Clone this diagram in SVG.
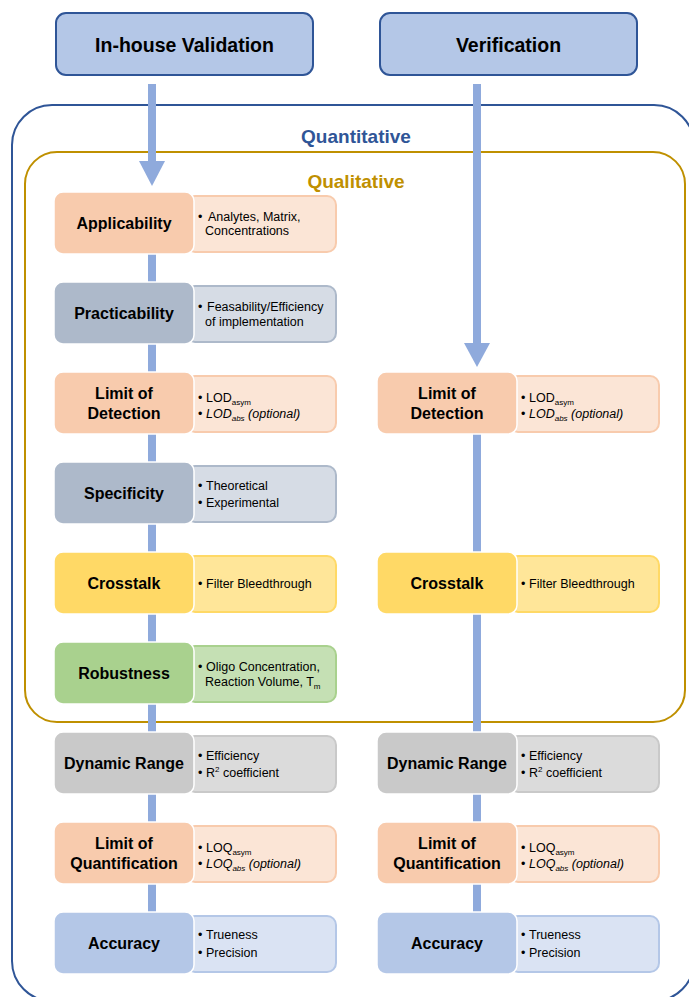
<svg xmlns="http://www.w3.org/2000/svg" width="689" height="997" viewBox="0 0 689 997">
<style>
text{font-family:"Liberation Sans",Arial,sans-serif;fill:#000}
.hdr{fill:#b4c7e7;stroke:#2f5597;stroke-width:2}
.ht{font-size:19.5px;font-weight:bold;text-anchor:middle}
.lbl{font-size:16px;font-weight:bold;text-anchor:middle}
.dt{font-size:12.5px}
.sub{font-size:8px}
.it{font-style:italic}
.main{stroke:#ffffff;stroke-width:1.5}
.det{stroke-width:2}
.or .main{fill:#f8cbad}.or .det{fill:#fbe5d6;stroke:#f8cbad}
.sl .main{fill:#adb9ca}.sl .det{fill:#d6dce5;stroke:#adb9ca}
.ye .main{fill:#ffd966}.ye .det{fill:#ffe699;stroke:#ffd966}
.gr .main{fill:#a9d18e}.gr .det{fill:#c5e0b4;stroke:#a9d18e}
.gy .main{fill:#c9c9c9}.gy .det{fill:#dbdbdb;stroke:#c9c9c9}
.bl .main{fill:#b4c7e7}.bl .det{fill:#dae3f3;stroke:#b4c7e7}
.conn{fill:#8faadc}
</style>
<rect width="689" height="997" fill="#ffffff"/>
<g id="containers">
<rect x="12" y="105" width="682" height="896" rx="40" fill="none" stroke="#2f5597" stroke-width="2"/>
<text x="356" y="143" font-size="19px" font-weight="bold" text-anchor="middle" style="fill:#2f5597">Quantitative</text>
<rect x="25" y="152" width="660" height="570" rx="32" fill="none" stroke="#bf9000" stroke-width="2"/>
<text x="356" y="188" font-size="19px" font-weight="bold" text-anchor="middle" style="fill:#bf9000">Qualitative</text>
</g>
<g id="header-validation">
<rect class="hdr" x="56" y="13" width="257" height="62" rx="10"/>
<text class="ht" x="184.5" y="51.5">In-house Validation</text>
</g>
<g id="header-verification">
<rect class="hdr" x="380" y="13" width="257" height="62" rx="10"/>
<text class="ht" x="508.5" y="51.5">Verification</text>
</g>
<g id="connectors">
<rect class="conn" x="148" y="84" width="8" height="78"/>
<polygon class="conn" points="139,161 165,161 152,186"/>
<rect class="conn" x="148" y="250" width="8" height="665"/>
<rect class="conn" x="473" y="84" width="8" height="260"/>
<polygon class="conn" points="464,343 490,343 477,367"/>
<rect class="conn" x="473" y="432" width="8" height="483"/>
</g>
<!-- Left column -->
<g id="applicability" class="or">
<rect class="det" x="186" y="196" width="150" height="56" rx="9"/>
<rect class="main" x="54" y="192" width="140" height="62" rx="9"/>
<text class="lbl" x="124" y="229">Applicability</text>
<text class="dt" x="198" y="221">•<tspan x="208">Analytes, Matrix,</tspan></text>
<text class="dt" x="205" y="235">Concentrations</text>
</g>
<g id="practicability" class="sl">
<rect class="det" x="186" y="286" width="150" height="56" rx="9"/>
<rect class="main" x="54" y="282" width="140" height="62" rx="9"/>
<text class="lbl" x="124" y="319">Practicability</text>
<text class="dt" x="198" y="311">•<tspan x="207">Feasability/Efficiency</tspan></text>
<text class="dt" x="205" y="326">of implementation</text>
</g>
<g id="lod-left" class="or">
<rect class="det" x="186" y="376" width="150" height="56" rx="9"/>
<rect class="main" x="54" y="372" width="140" height="62" rx="9"/>
<text class="lbl" x="124" y="399">Limit of</text>
<text class="lbl" x="124" y="419">Detection</text>
<text class="dt" x="198" y="402">•<tspan x="206">LOD</tspan><tspan class="sub" dy="3">asym</tspan></text>
<text class="dt" x="198" y="418">•<tspan x="206" class="it">LOD</tspan><tspan class="sub it" dy="3">abs</tspan><tspan class="it" dy="-3"> (optional)</tspan></text>
</g>
<g id="specificity" class="sl">
<rect class="det" x="186" y="466" width="150" height="56" rx="9"/>
<rect class="main" x="54" y="462" width="140" height="62" rx="9"/>
<text class="lbl" x="124" y="499">Specificity</text>
<text class="dt" x="198" y="490">•<tspan x="206">Theoretical</tspan></text>
<text class="dt" x="198" y="507">•<tspan x="206">Experimental</tspan></text>
</g>
<g id="crosstalk-left" class="ye">
<rect class="det" x="186" y="556" width="150" height="56" rx="9"/>
<rect class="main" x="54" y="552" width="140" height="62" rx="9"/>
<text class="lbl" x="124" y="589">Crosstalk</text>
<text class="dt" x="198" y="588">•<tspan x="206">Filter Bleedthrough</tspan></text>
</g>
<g id="robustness" class="gr">
<rect class="det" x="186" y="646" width="150" height="56" rx="9"/>
<rect class="main" x="54" y="642" width="140" height="62" rx="9"/>
<text class="lbl" x="124" y="679">Robustness</text>
<text class="dt" x="198" y="671">•<tspan x="206">Oligo Concentration,</tspan></text>
<text class="dt" x="205" y="686">Reaction Volume, T<tspan class="sub" dy="3">m</tspan></text>
</g>
<g id="dynamic-range-left" class="gy">
<rect class="det" x="186" y="736" width="150" height="56" rx="9"/>
<rect class="main" x="54" y="732" width="140" height="62" rx="9"/>
<text class="lbl" x="124" y="769">Dynamic Range</text>
<text class="dt" x="198" y="760">•<tspan x="206">Efficiency</tspan></text>
<text class="dt" x="198" y="777">•<tspan x="206">R</tspan><tspan class="sub" dy="-5">2</tspan><tspan dy="5"> coefficient</tspan></text>
</g>
<g id="loq-left" class="or">
<rect class="det" x="186" y="826" width="150" height="56" rx="9"/>
<rect class="main" x="54" y="822" width="140" height="62" rx="9"/>
<text class="lbl" x="124" y="849">Limit of</text>
<text class="lbl" x="124" y="869">Quantification</text>
<text class="dt" x="198" y="852">•<tspan x="206">LOQ</tspan><tspan class="sub" dy="3">asym</tspan></text>
<text class="dt" x="198" y="868">•<tspan x="206" class="it">LOQ</tspan><tspan class="sub it" dy="3">abs</tspan><tspan class="it" dy="-3"> (optional)</tspan></text>
</g>
<g id="accuracy-left" class="bl">
<rect class="det" x="186" y="916" width="150" height="56" rx="9"/>
<rect class="main" x="54" y="912" width="140" height="62" rx="9"/>
<text class="lbl" x="124" y="949">Accuracy</text>
<text class="dt" x="198" y="939">•<tspan x="206">Trueness</tspan></text>
<text class="dt" x="198" y="957">•<tspan x="206">Precision</tspan></text>
</g>
<!-- Right column -->
<g id="lod-right" class="or">
<rect class="det" x="509" y="376" width="150" height="56" rx="9"/>
<rect class="main" x="377" y="372" width="140" height="62" rx="9"/>
<text class="lbl" x="447" y="399">Limit of</text>
<text class="lbl" x="447" y="419">Detection</text>
<text class="dt" x="521" y="402">•<tspan x="529">LOD</tspan><tspan class="sub" dy="3">asym</tspan></text>
<text class="dt" x="521" y="418">•<tspan x="529" class="it">LOD</tspan><tspan class="sub it" dy="3">abs</tspan><tspan class="it" dy="-3"> (optional)</tspan></text>
</g>
<g id="crosstalk-right" class="ye">
<rect class="det" x="509" y="556" width="150" height="56" rx="9"/>
<rect class="main" x="377" y="552" width="140" height="62" rx="9"/>
<text class="lbl" x="447" y="589">Crosstalk</text>
<text class="dt" x="521" y="588">•<tspan x="529">Filter Bleedthrough</tspan></text>
</g>
<g id="dynamic-range-right" class="gy">
<rect class="det" x="509" y="736" width="150" height="56" rx="9"/>
<rect class="main" x="377" y="732" width="140" height="62" rx="9"/>
<text class="lbl" x="447" y="769">Dynamic Range</text>
<text class="dt" x="521" y="760">•<tspan x="529">Efficiency</tspan></text>
<text class="dt" x="521" y="777">•<tspan x="529">R</tspan><tspan class="sub" dy="-5">2</tspan><tspan dy="5"> coefficient</tspan></text>
</g>
<g id="loq-right" class="or">
<rect class="det" x="509" y="826" width="150" height="56" rx="9"/>
<rect class="main" x="377" y="822" width="140" height="62" rx="9"/>
<text class="lbl" x="447" y="849">Limit of</text>
<text class="lbl" x="447" y="869">Quantification</text>
<text class="dt" x="521" y="852">•<tspan x="529">LOQ</tspan><tspan class="sub" dy="3">asym</tspan></text>
<text class="dt" x="521" y="868">•<tspan x="529" class="it">LOQ</tspan><tspan class="sub it" dy="3">abs</tspan><tspan class="it" dy="-3"> (optional)</tspan></text>
</g>
<g id="accuracy-right" class="bl">
<rect class="det" x="509" y="916" width="150" height="56" rx="9"/>
<rect class="main" x="377" y="912" width="140" height="62" rx="9"/>
<text class="lbl" x="447" y="949">Accuracy</text>
<text class="dt" x="521" y="939">•<tspan x="529">Trueness</tspan></text>
<text class="dt" x="521" y="957">•<tspan x="529">Precision</tspan></text>
</g>
</svg>
